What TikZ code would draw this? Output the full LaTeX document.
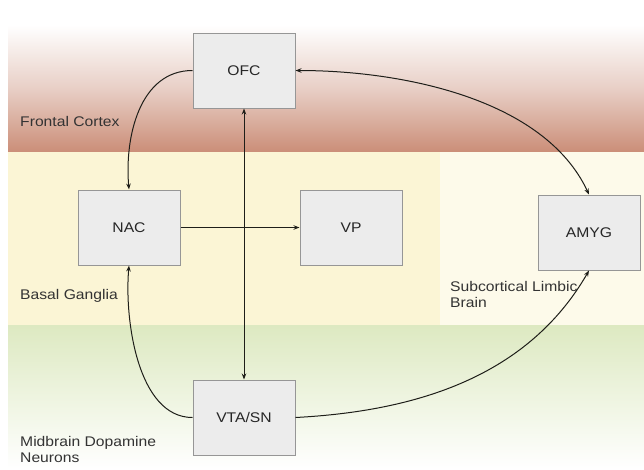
\documentclass[tikz,border=0pt]{standalone}
\usepackage{fontspec}
\setmainfont{Liberation Sans}[FakeStretch=1.12]
\usetikzlibrary{arrows.meta}
\definecolor{redband}{RGB}{203,142,120}
\definecolor{redmid}{RGB}{232,207,198}
\definecolor{yelband}{RGB}{251,245,213}
\definecolor{yelright}{RGB}{253,250,234}
\definecolor{grnband}{RGB}{221,233,193}
\definecolor{boxfill}{RGB}{236,236,236}
\definecolor{boxline}{RGB}{150,150,150}
\definecolor{lnk}{RGB}{30,30,25}
\tikzset{
  region/.style={font=\fontsize{14}{16}\selectfont, text=black!80, align=left, anchor=north west, inner sep=0pt},
  areabox/.style={draw=boxline, line width=1pt, fill=boxfill, minimum width=102pt, minimum height=75pt, font=\fontsize{14}{16}\selectfont, text=black!85, inner sep=0pt},
  link/.style={draw=lnk, line width=1pt, -{Stealth[length=6pt,width=4.5pt]}},
  dlink/.style={draw=lnk, line width=1pt, {Stealth[length=6pt,width=4.5pt]}-{Stealth[length=6pt,width=4.5pt]}}
}
\begin{document}
\begin{tikzpicture}[x=1pt,y=-1pt]
\useasboundingbox (0,0) rectangle (644,469);
\fill[white] (0,0) rectangle (644,469);
% bands
\shade[top color=white, bottom color=redband, middle color=redmid] (8,25) rectangle (644,152);
\fill[white] (8,0) rectangle (644,25);
\fill[yelband] (8,152) rectangle (440,325);
\fill[yelright] (440,152) rectangle (644,325);
\shade[top color=grnband, bottom color=white] (8,325) rectangle (644,469);
% region labels
\node[region] (lfc) at (20,116) {Frontal Cortex};
\node[region] (lbg) at (20,289) {Basal Ganglia};
\node[region] (lsl) at (450,281) {Subcortical Limbic\\Brain};
\node[region] (lmd) at (20,436) {Midbrain Dopamine\\Neurons};
% nodes
\node[areabox] (ofc) at (244,70.5) {OFC};
\node[areabox] (nac) at (129,227.5) {NAC};
\node[areabox] (vp) at (351,227.5) {VP};
\node[areabox] (amyg) at (589,232.5) {AMYG};
\node[areabox] (vta) at (244,417.5) {VTA/SN};
% links
\draw[link] (ofc.west) to[out=180,in=95] (nac.north);
\draw[dlink] (ofc.east) to[out=0,in=115,looseness=0.85] (amyg.north);
\draw[dlink] (ofc.south) -- (vta.north);
\draw[link] (nac.east) -- (vp.west);
\draw[link] (vta.west) to[out=180,in=265,looseness=0.85] (nac.south);
\draw[link] (vta.east) to[out=3,in=240,looseness=0.95] (amyg.south);
\end{tikzpicture}
\end{document}
